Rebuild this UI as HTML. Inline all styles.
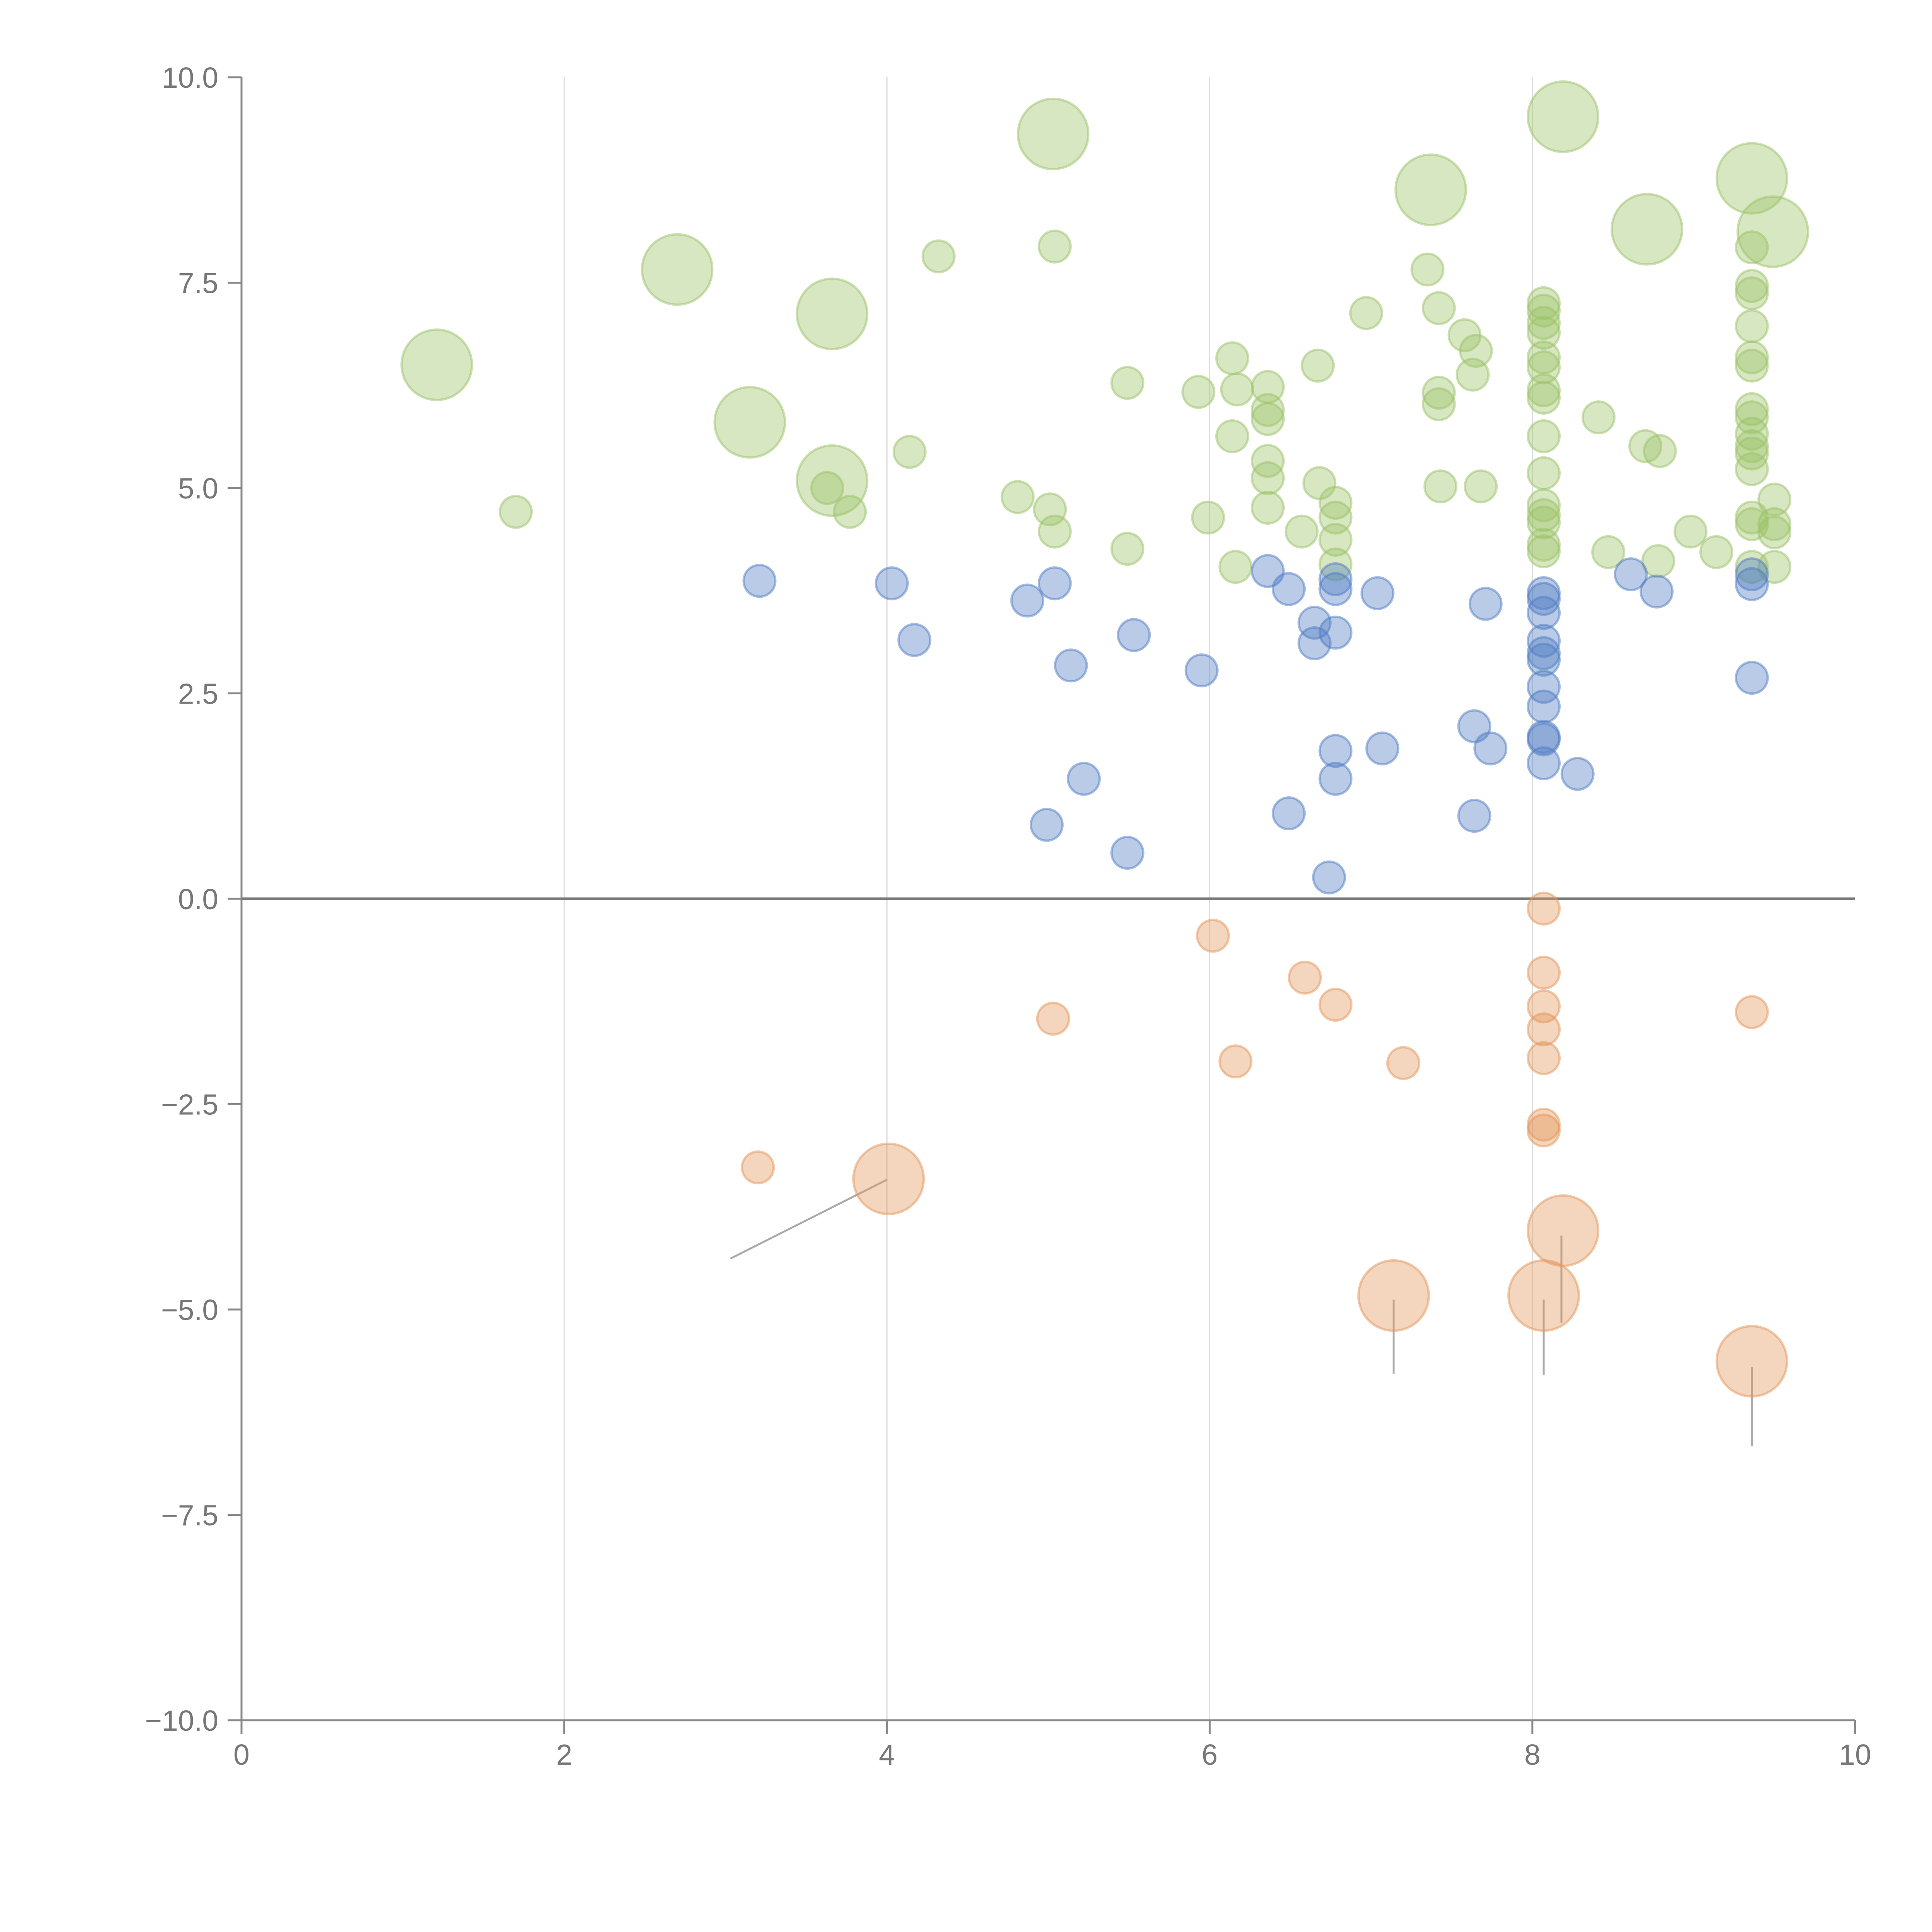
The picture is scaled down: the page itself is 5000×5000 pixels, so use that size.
<!DOCTYPE html>
<html><head><meta charset="utf-8"><style>html,body{margin:0;padding:0;background:#fff}svg{display:block}</style></head>
<body>
<svg id="chart" width="5000" height="5000" viewBox="0 0 5000 5000" xmlns="http://www.w3.org/2000/svg"></svg>
<script>
const xTicks=[0,2,4,6,8,10];
const yTicks=[10,7.5,5,2.5,0,-2.5,-5,-7.5,-10];
const yTickLabels=["10.0","7.5","5.0","2.5","0.0","−2.5","−5.0","−7.5","−10.0"];
const greenX=[1.21,2.70,3.66,3.15,3.66,5.03,7.37,8.19,8.71,9.36,9.49,1.70,4.32,5.04,4.14,3.63,3.77,4.81,5.01,5.04,5.49,5.49,5.93,5.99,6.14,6.17,6.14,6.16,6.36,6.36,6.36,6.36,6.36,6.36,6.57,6.67,6.68,6.78,6.78,6.78,6.78,6.97,7.35,7.42,7.42,7.42,7.43,7.58,7.65,7.63,7.68,8.07,8.07,8.07,8.07,8.07,8.07,8.07,8.07,8.07,8.07,8.07,8.07,8.07,8.07,8.07,8.41,8.47,8.70,8.79,8.78,8.98,9.14,9.36,9.36,9.36,9.36,9.36,9.36,9.36,9.36,9.36,9.36,9.36,9.36,9.36,9.36,9.36,9.50,9.50,9.50,9.50];
const greenY=[6.5,7.66,7.12,5.80,5.09,9.31,8.63,9.52,8.15,8.77,8.12,4.71,7.82,7.94,5.44,5.00,4.71,4.89,4.74,4.47,6.28,4.26,6.17,4.64,6.58,6.20,5.63,4.04,6.23,5.95,5.84,5.33,5.12,4.76,4.47,6.49,5.06,4.82,4.64,4.37,4.07,7.13,7.66,7.19,6.16,6.02,5.02,6.86,6.67,6.38,5.02,7.25,7.16,7.01,6.89,6.59,6.47,6.19,6.10,5.63,5.18,4.79,4.67,4.58,4.31,4.23,5.86,4.22,5.51,5.45,4.11,4.47,4.22,7.93,7.46,7.37,6.97,6.59,6.49,5.96,5.86,5.66,5.51,5.42,5.23,4.64,4.56,4.04,4.86,4.56,4.46,4.04];
const greenBig=11;
const blueX=[3.21,4.03,4.17,4.87,5.04,5.14,5.22,4.99,5.49,5.53,5.95,6.36,6.49,6.49,6.65,6.65,6.78,6.78,6.78,6.78,6.78,6.74,7.04,7.07,7.64,7.64,7.71,7.74,8.07,8.07,8.07,8.07,8.07,8.07,8.07,8.07,8.07,8.07,8.07,8.28,8.61,8.77,9.36,9.36,9.36];
const blueY=[3.87,3.84,3.15,3.63,3.84,2.84,1.46,0.90,0.56,3.21,2.78,3.99,3.77,1.04,3.36,3.11,3.89,3.77,3.24,1.80,1.46,0.26,3.72,1.83,2.10,1.01,3.59,1.83,3.72,3.65,3.48,3.14,2.99,2.91,2.58,2.34,1.97,1.94,1.65,1.52,3.95,3.74,3.95,3.83,2.69];
const orangeX=[4.01,7.14,8.07,8.19,9.36,3.20,5.03,6.02,6.16,6.59,6.78,7.20,8.07,8.07,8.07,8.07,8.07,8.07,8.07,9.36];
const orangeY=[-3.41,-4.83,-4.83,-4.04,-5.63,-3.27,-1.46,-0.45,-1.98,-0.96,-1.29,-2.00,-0.12,-0.90,-1.31,-1.59,-1.94,-2.75,-2.82,-1.38];
const orangeBig=5;
const leaderX1=[3.03,7.14,8.07,8.18,9.36];
const leaderY1=[-4.38,-5.78,-5.80,-5.16,-6.66];
const leaderX2=[4.00,7.14,8.07,8.18,9.36];
const leaderY2=[-3.42,-4.88,-4.88,-4.10,-5.70];

const NS="http://www.w3.org/2000/svg";
const svg=document.getElementById('chart');
const X=v=>625+v*417.6;
const Y=v=>2326-v*212.6;
function mk(tag,attrs,parent){const e=document.createElementNS(NS,tag);for(const k in attrs)e.setAttribute(k,attrs[k]);(parent||svg).appendChild(e);return e;}
const grid=mk('g',{});


xTicks.forEach(t=>{if(t>0&&t<10){const l=mk('line',{x1:X(t),x2:X(t),y1:Y(10),y2:Y(-10),stroke:'#dcdcdc','stroke-width':3},grid);

}});
const zl=mk('line',{x1:X(0),x2:X(10),y1:Y(0),y2:Y(0),stroke:'#7a7a7a','stroke-width':7});


const ax=mk('g',{stroke:'#888','stroke-width':5,fill:'none'});


mk('line',{x1:X(0),x2:X(0),y1:Y(10),y2:Y(-10)},ax);
mk('line',{x1:X(0),x2:X(10),y1:Y(-10),y2:Y(-10)},ax);
yTicks.forEach((t,i)=>{mk('line',{x1:X(0)-36,x2:X(0),y1:Y(t),y2:Y(t)},ax);
const tx=mk('text',{x:X(0)-60,y:Y(t)+27,'text-anchor':'end','font-size':75,fill:'#777','font-family':'Liberation Sans, sans-serif',stroke:'none'});
tx.textContent=yTickLabels[i];

});
xTicks.forEach(t=>{mk('line',{x1:X(t),x2:X(t),y1:Y(-10),y2:Y(-10)+36},ax);
const tx=mk('text',{x:X(t),y:Y(-10)+115,'text-anchor':'middle','font-size':75,fill:'#777','font-family':'Liberation Sans, sans-serif',stroke:'none'});
tx.textContent=String(t);

});
const lead=mk('g',{stroke:'#aaa','stroke-width':5});


leaderX1.forEach((v,i)=>{mk('line',{x1:X(v),y1:Y(leaderY1[i]),x2:X(leaderX2[i]),y2:Y(leaderY2[i])},lead);});
function series(xs,ys,nBig,fill,stroke,name){
const g=mk('g',{});


xs.forEach((v,i)=>{const c=mk('circle',{cx:X(v),cy:Y(ys[i]),r:i<nBig?91:41,fill:fill,'fill-opacity':0.4,stroke:stroke,'stroke-opacity':0.5,'stroke-width':6},g);

});}
series(greenX,greenY,greenBig,'#9cc267','#9cc267','green');
series(blueX,blueY,0,'#4f7cc3','#4f7cc3','blue');
series(orangeX,orangeY,orangeBig,'#e3955a','#e3955a','orange');
</script>
</body></html>
